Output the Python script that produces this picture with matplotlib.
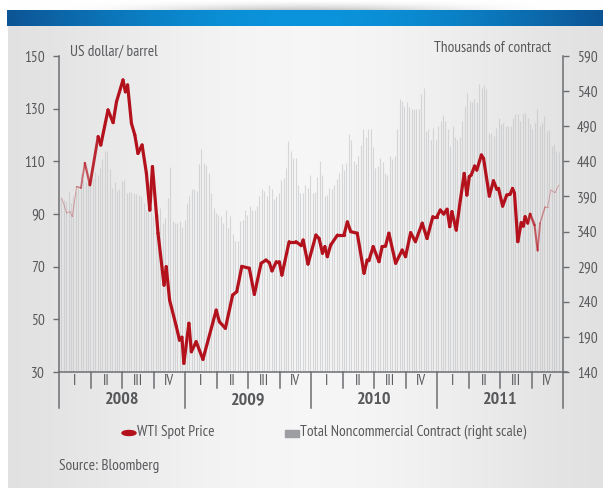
import numpy as np
import matplotlib.pyplot as plt
from matplotlib import font_manager
from matplotlib.collections import LineCollection
from matplotlib.patches import Ellipse, Rectangle

names = {f.name for f in font_manager.fontManager.ttflist}
fam = 'PT Sans Narrow' if 'PT Sans Narrow' in names else 'DejaVu Sans'
plt.rcParams['font.family'] = [fam, 'DejaVu Sans']

# ---- data ----
# WTI spot price, US$/barrel, x = weeks since 1 Jan 2008
wti_week = [1.1, 3.2, 4.5, 5.5, 7.3, 9.1, 10.7, 12.8, 16.2, 17.3, 20.3, 22.4, 23.8, 26.5,
            27.5, 28.4, 30.0, 31.4, 32.7, 34.4, 36.2, 37.6, 38.7, 41.0, 43.5, 44.4, 45.8,
            48.6, 49.9, 50.9, 51.7, 53.8, 54.8, 56.8, 59.6, 65.1, 66.4, 68.9, 71.9, 73.6,
            75.7, 78.8, 80.9, 83.7, 85.7, 87.1, 88.2, 90.0, 91.2, 92.3, 95.3, 98.1, 100.3,
            101.1, 103.1, 106.4, 107.7, 109.1, 110.1, 111.1, 112.5, 115.3, 118.0, 119.4,
            120.8, 123.5, 126.3, 127.6, 128.3, 130.1, 132.5, 133.8, 135.2, 136.6, 139.4,
            142.1, 143.5, 145.6, 147.6, 150.4, 152.4, 154.8, 156.5, 157.9, 159.3, 160.7,
            161.8, 162.7, 164.5, 166.2, 167.8, 168.9, 169.9, 170.7, 172.1, 173.0, 174.9,
            175.8, 178.2, 179.9, 181.3, 182.0, 183.7, 185.4, 186.8, 187.8, 188.6, 190.0,
            191.4, 192.3, 193.0, 194.1, 195.1, 196.9, 198.2, 199.2, 201.3, 202.3, 203.7,
            205.4, 207.0]
wti_price = [96.1, 90.4, 90.9, 89.0, 100.4, 99.9, 109.4, 101.0, 119.4, 116.2, 129.5, 124.7,
             132.6, 140.9, 136.4, 139.0, 124.4, 120.0, 113.0, 116.2, 105.4, 91.5, 108.0,
             82.7, 63.0, 70.0, 57.3, 47.2, 42.1, 43.2, 33.3, 48.5, 37.7, 41.5, 34.8, 53.5,
             49.1, 46.6, 59.2, 60.5, 70.1, 69.4, 59.5, 71.3, 72.5, 71.5, 68.4, 71.9, 71.9,
             66.8, 79.5, 79.5, 78.0, 80.1, 71.0, 82.0, 80.7, 75.1, 77.6, 73.8, 78.2, 82.0,
             82.0, 87.0, 83.3, 82.7, 67.5, 72.5, 72.3, 77.6, 71.9, 77.6, 77.8, 82.7, 71.3,
             76.3, 73.8, 82.9, 79.5, 86.5, 80.7, 89.0, 89.0, 91.5, 90.0, 91.8, 85.2, 90.9,
             83.9, 95.3, 105.4, 97.2, 104.2, 104.8, 108.2, 106.7, 112.4, 111.1, 96.8, 102.6,
             99.4, 99.7, 93.0, 97.2, 97.5, 99.7, 97.9, 79.5, 86.7, 85.4, 89.0, 86.5, 90.0,
             85.8, 76.1, 86.5, 92.8, 92.8, 99.1, 98.1, 101.0]

# Total noncommercial contracts, thousands, one value per week from week 1
contracts = [388, 385, 383, 397, 380, 390, 398, 405, 424, 414, 410, 412, 418, 415, 425, 420,
             430, 443, 455, 455, 429, 402, 410, 398, 400, 412, 414, 395, 397, 397, 395, 393,
             392, 391, 380, 371, 370, 375, 362, 362, 365, 374, 352, 360, 388, 432, 355, 352,
             352, 355, 346, 357, 381, 390, 400, 400, 398, 436, 458, 437, 435, 424, 395, 374,
             367, 363, 362, 352, 371, 345, 362, 336, 326, 327, 355, 357, 371, 364, 376, 370,
             370, 376, 390, 400, 398, 390, 406, 400, 386, 390, 395, 414, 416, 431, 469, 455,
             445, 445, 407, 395, 395, 407, 402, 421, 395, 397, 417, 441, 421, 390, 392, 402,
             400, 407, 415, 424, 436, 428, 437, 479, 471, 440, 436, 448, 463, 486, 474, 486,
             486, 460, 431, 433, 445, 439, 423, 421, 447, 443, 447, 486, 529, 526, 519, 524,
             518, 515, 514, 514, 515, 536, 544, 483, 486, 471, 488, 471, 490, 498, 506, 498,
             486, 462, 490, 474, 471, 475, 498, 519, 537, 526, 524, 529, 524, 550, 545, 548,
             543, 480, 480, 476, 488, 501, 493, 495, 490, 490, 490, 501, 507, 507, 497, 507,
             509, 502, 493, 486, 495, 515, 490, 494, 504, 483, 485, 462, 464, 455, 453]

years = ['2008', '2009', '2010', '2011']
quarters = ['I', 'II', 'III', 'IV']
left_ticks = [30, 50, 70, 90, 110, 130, 150]
right_ticks = [140, 190, 240, 290, 340, 390, 440, 490, 540, 590]

W, H = 603, 494
TXT = '#58595b'
AXC = '#6d6e71'
RED = '#b3111b'
NWEEKS = 208.7

fig = plt.figure(figsize=(W / 100, H / 100), dpi=100)


def fx(x):
    return x / W


def fy(y):
    return 1 - y / H


# ---- background panel, header bar ----
bg = fig.add_axes([0, 0, 1, 1], zorder=-10)
bg.set_xlim(0, W)
bg.set_ylim(H, 0)
bg.axis('off')
u = np.linspace(0, 1, 400)
g = 0.885 + 0.08 * np.sin(np.pi * u) ** 1.5
panel = np.stack([g, g, g * 1.004], axis=-1).clip(0, 1)[None, :, :]
panel = np.repeat(panel, 2, axis=0)
bg.imshow(panel, extent=(8, W, 488, 26), aspect='auto', interpolation='bilinear')
dark = np.array([0.05, 0.33, 0.58])
light = np.array([0.04, 0.58, 0.86])
s = np.sin(np.pi * u)[:, None]
blue = (dark + (light - dark) * s)[None, :, :]
blue = np.repeat(blue, 2, axis=0)
bg.imshow(blue, extent=(7, W, 26, 10), aspect='auto', interpolation='bilinear')
v = np.linspace(0, 1, 20)[:, None]
shade = 1 - 0.22 * np.sin(np.pi * u)[None, :] ** 3 * v ** 1.5
shadow = np.stack([shade, shade, shade], axis=-1)
bg.imshow(shadow, extent=(7, W, 10, 0), aspect='auto', interpolation='bilinear')

# ---- chart ----
ax = fig.add_axes([fx(59), fy(372), 504 / W, 316 / H])
ax2 = ax.twinx()
ax.set_zorder(2)
ax2.set_zorder(1)
ax.patch.set_visible(False)
ax2.patch.set_visible(False)

bar_x = np.arange(1, len(contracts) + 1)
ax2.vlines(bar_x, 140, contracts, color='#c2c3c6', lw=0.8, alpha=0.62)
ax2.set_ylim(140, 590)

pts = np.column_stack([wti_week, wti_price])
segs = np.stack([pts[:-1], pts[1:]], axis=1)
mid = (pts[:-1, 0] + pts[1:, 0]) / 2
r = np.minimum(np.clip((mid - 6) / 10, 0, 1), np.clip((202 - mid) / 9, 0, 1))
widths = 0.7 + 1.6 * r
cols = np.zeros((len(segs), 4))
cols[:, :3] = [0.70, 0.067, 0.106]
cols[:, 3] = 0.3 + 0.7 * r
lc = LineCollection(segs, linewidths=widths, colors=cols, capstyle='round', joinstyle='round')
ax.add_collection(lc)
ax.set_xlim(0, NWEEKS)
ax.set_ylim(30, 150)

ax.set_yticks(left_ticks)
ax2.set_yticks(right_ticks)
ax.set_xticks([])
for a in (ax, ax2):
    for sp in a.spines.values():
        sp.set_color(AXC)
        sp.set_linewidth(1.1)
    a.spines['top'].set_visible(False)
ax.spines['right'].set_visible(False)
ax2.spines['left'].set_visible(False)
ax2.spines['bottom'].set_visible(False)
ax.tick_params(axis='y', direction='out', length=4, width=1, color=AXC,
               labelsize=11, labelcolor=TXT, pad=6)
ax2.tick_params(axis='y', direction='out', length=4, width=1, color=AXC,
                labelsize=11, labelcolor=TXT, pad=6)

# quarter / year axis under the chart
xt = ax.get_xaxis_transform()
q = NWEEKS / 16
ax.plot([NWEEKS, NWEEKS * 1.007], [0, 0], transform=xt, color=AXC, lw=1.1, clip_on=False)
for k in range(17):
    low = -0.114 if k % 4 == 0 else -0.052
    ax.plot([k * q, k * q], [0, low], transform=xt, color=AXC, lw=1.1, clip_on=False)
for k in range(16):
    ax.text((k + 0.5) * q, -0.029, quarters[k % 4], transform=xt, ha='center', va='center',
            fontsize=10.5, color=TXT)
for i, yr in enumerate(years):
    ax.text((i * 4 + 2) * q, -0.089, yr, transform=xt, ha='center', va='center',
            fontsize=13, fontweight='bold', color=TXT)

# ---- texts ----
fig.text(fx(70), fy(52), 'US dollar/ barrel', fontsize=11, color=TXT, va='center')
fig.text(fx(551), fy(48), 'Thousands of contract', fontsize=11, color=TXT, va='center', ha='right')
fig.add_artist(Ellipse((fx(129), fy(433)), 14 / W, 5 / H, transform=fig.transFigure,
                       color=RED))
fig.text(fx(137), fy(432), 'WTI Spot Price', fontsize=11, color=TXT, va='center')
fig.add_artist(Rectangle((fx(285), fy(437)), 14 / W, 7 / H, transform=fig.transFigure,
                         color='#9d9ea1'))
fig.text(fx(300), fy(432), 'Total Noncommercial Contract (right scale)', fontsize=11,
         color=TXT, va='center')
fig.text(fx(59), fy(466), 'Source: Bloomberg', fontsize=11, color=TXT, va='center')

fig.savefig('out.png', dpi=100)
